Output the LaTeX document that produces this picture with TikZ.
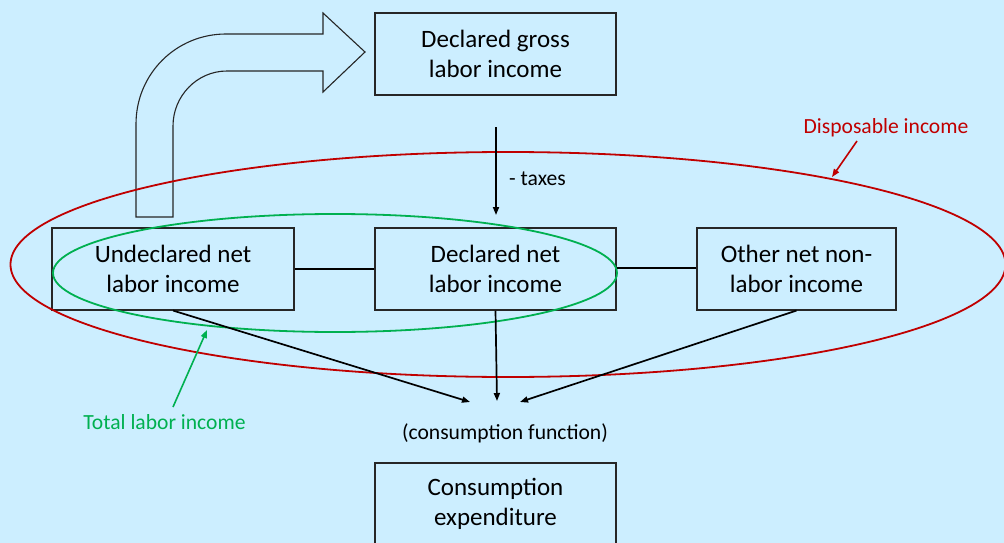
\documentclass[tikz,border=0pt]{standalone}
\usepackage{fontspec}
\setmainfont{Carlito}
\usetikzlibrary{arrows.meta}
\definecolor{bg}{RGB}{204,238,255}
\definecolor{dred}{RGB}{192,0,0}
\definecolor{dgreen}{RGB}{0,176,80}
\tikzset{
  box/.style={draw=black!85, line width=1.1pt, minimum height=82pt, inner sep=0pt, align=center, font=\fontsize{25}{30}\selectfont},
  small/.style={font=\fontsize{21.6}{25}\selectfont, inner sep=0pt},
  conn/.style={draw=black, line width=1.7pt},
  arr/.style={conn, -{Triangle[length=8pt,width=6pt]}},
}
\begin{document}
\begin{tikzpicture}[x=1pt,y=-1pt]
\fill[bg] (0,0) rectangle (1004,543);
\useasboundingbox (0,0) rectangle (1004,543);

% big bent arrow
\draw[black!85, line width=1.1pt, line join=miter]
  (136,217) -- (136,124) .. controls (136,74) and (176,34) .. (226,34)
  -- (323,34) -- (323,13) -- (365,52) -- (323,92) -- (323,71) -- (227,71)
  .. controls (197,71) and (173,96) .. (173,126) -- (173,217) -- cycle;

% boxes
\node[box, minimum width=241pt] (gross) at (495.5,54) {Declared gross\\labor income};
\node[box, minimum width=242pt] (undecl) at (173,269) {Undeclared net\\labor income};
\node[box, minimum width=241pt] (declnet) at (495.5,269) {Declared net\\labor income};
\node[box, minimum width=199pt] (other) at (796.5,269) {Other net non-\\labor income};
\node[box, minimum width=241pt] (cons) at (495.5,504) {Consumption\\expenditure};

% ellipses
\draw[dred, line width=1.8pt] (508,264.5) ellipse [x radius=497.5pt, y radius=112.5pt];
\draw[dgreen, line width=1.8pt] (335,273) ellipse [x radius=282pt, y radius=59pt];

% connectors
\draw[conn] (undecl.east |- 0,269) -- (declnet.west |- 0,269);
\draw[conn] (declnet.east |- 0,268) -- (other.west |- 0,268);

\coordinate (taxA) at (496,127);
\coordinate (taxB) at (496,215);
\draw[arr] (taxA) -- (taxB);
\node[small, anchor=west] (taxes) at (509,179) {- taxes};

\coordinate (cfL) at (470,402);
\coordinate (cfM) at (497,401);
\coordinate (cfR) at (520,402);
\draw[arr] (undecl.south) -- (cfL);
\draw[arr] (declnet.south) -- (cfM);
\draw[arr] (other.south) -- (cfR);
\node[small] (cf) at (505,433) {(consumption function)};

% labels
\node[small, text=dred] (disp) at (886,128) {Disposable income};
\coordinate (dispA) at (857,141);
\coordinate (dispB) at (832,177);
\draw[dred, line width=1.6pt, -{Triangle[length=8pt,width=6pt]}] (dispA) -- (dispB);

\node[small, text=dgreen] (total) at (164.5,422) {Total labor income};
\coordinate (totA) at (173,407);
\coordinate (totB) at (207,330);
\draw[dgreen, line width=1.6pt, -{Triangle[length=8pt,width=6pt]}] (totA) -- (totB);
\end{tikzpicture}
\end{document}
